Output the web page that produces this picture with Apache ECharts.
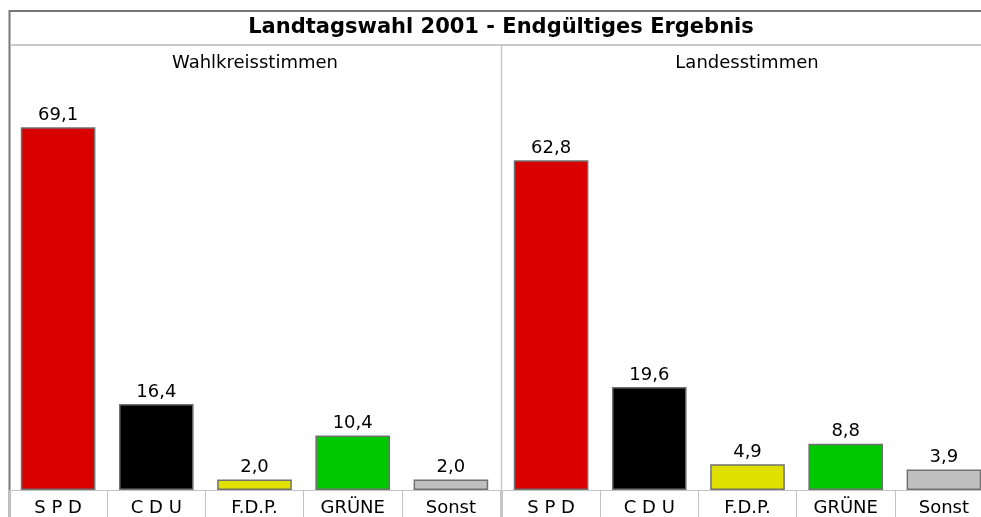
<!DOCTYPE html>
<html>
<head>
<meta charset="utf-8">
<script src="https://cdn.jsdelivr.net/npm/echarts@6/dist/echarts.min.js"></script>
<style>
html,body{margin:0;padding:0;background:#fff;}
#main{width:981px;height:517px;}
</style>
</head>
<body>
<div id="main"></div>
<script>
const chartTitle = 'Landtagswahl 2001 - Endgültiges Ergebnis';
const panelTitles = ['Wahlkreisstimmen', 'Landesstimmen'];
const categories = ['S P D', 'C D U', 'F.D.P.', 'GRÜNE', 'Sonst'];
const wahlkreisstimmen = [69.1, 16.4, 2.0, 10.4, 2.0];
const landesstimmen = [62.8, 19.6, 4.9, 8.8, 3.9];
const partyColors = ['#d90000', '#000000', '#e0e000', '#00c800', '#c0c0c0'];

const FONT = 'DejaVu Sans';

function toData(values) {
  return values.map((v, i) => ({ value: v, itemStyle: { color: partyColors[i] } }));
}

function xAxis(gridIndex) {
  return {
    type: 'category',
    gridIndex: gridIndex,
    data: categories,
    axisLine: { show: true, lineStyle: { color: '#c4c4c4', width: 1 } },
    axisTick: { show: true, length: 27, lineStyle: { color: '#c4c4c4', width: 1 } },
    axisLabel: { color: '#000', fontFamily: FONT, fontSize: 18, margin: 9 }
  };
}
function yAxis(gridIndex) {
  return {
    type: 'value', gridIndex: gridIndex, min: 0, max: 80, show: false,
    splitLine: { show: false }
  };
}
function series(idx, values) {
  return {
    type: 'bar',
    xAxisIndex: idx, yAxisIndex: idx,
    data: toData(values),
    barWidth: '76%',
    itemStyle: { borderColor: '#707070', borderWidth: 1.5 },
    label: {
      show: true, position: 'top', distance: 3,
      color: '#000', fontFamily: FONT, fontSize: 18,
      formatter: p => p.value.toFixed(1).replace('.', ',')
    }
  };
}

const chart = echarts.init(document.getElementById('main'));
chart.setOption({
  backgroundColor: '#fff',
  animation: false,
  title: [
    { text: chartTitle, left: 501, top: 17, textAlign: 'center', padding: 0,
      textStyle: { fontFamily: FONT, fontSize: 21, fontWeight: 'bold', color: '#000' } },
    { text: panelTitles[0], left: 255, top: 54, textAlign: 'center', padding: 0,
      textStyle: { fontFamily: FONT, fontSize: 18, fontWeight: 'normal', color: '#000' } },
    { text: panelTitles[1], left: 747, top: 54, textAlign: 'center', padding: 0,
      textStyle: { fontFamily: FONT, fontSize: 18, fontWeight: 'normal', color: '#000' } }
  ],
  grid: [
    { left: 9, width: 491, top: 70, bottom: 27, outerBoundsMode: 'none', containLabel: false },
    { left: 502, width: 491, top: 70, bottom: 27, outerBoundsMode: 'none', containLabel: false }
  ],
  xAxis: [xAxis(0), xAxis(1)],
  yAxis: [yAxis(0), yAxis(1)],
  series: [series(0, wahlkreisstimmen), series(1, landesstimmen)],
  graphic: [
    { type: 'line', silent: true, shape: { x1: 9, y1: 11, x2: 981, y2: 11 }, style: { stroke: '#777', lineWidth: 2 } },
    { type: 'line', silent: true, shape: { x1: 9.5, y1: 10, x2: 9.5, y2: 517 }, style: { stroke: '#777', lineWidth: 2 } },
    { type: 'line', silent: true, shape: { x1: 10, y1: 45, x2: 981, y2: 45 }, style: { stroke: '#c8c8c8', lineWidth: 2 } },
    { type: 'line', silent: true, shape: { x1: 501.5, y1: 45, x2: 501.5, y2: 517 }, style: { stroke: '#c8c8c8', lineWidth: 1.5 } }
  ]
});
</script>
</body>
</html>
